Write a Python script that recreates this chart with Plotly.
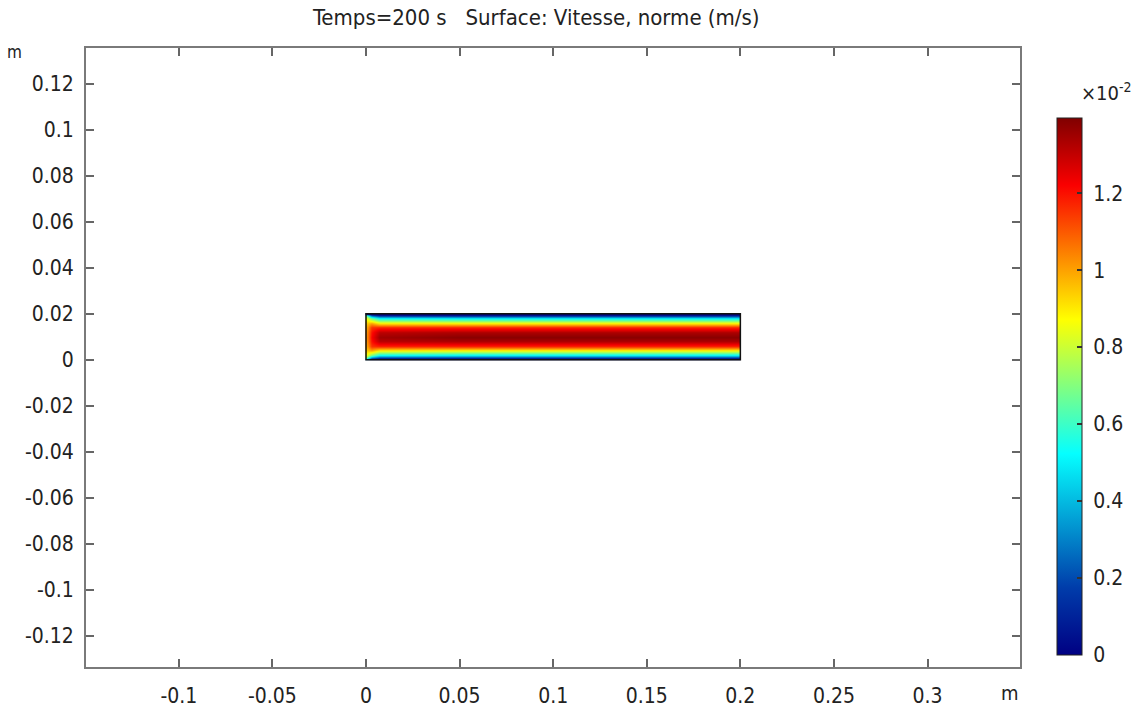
import plotly.graph_objects as go

# ---- data ----
x_pos = [0.0, 0.0006, 0.003, 0.007, 0.05, 0.1, 0.15, 0.1994, 0.2]          # m
y_pos = [0.0, 0.0005, 0.001, 0.002, 0.004, 0.006, 0.008, 0.01,
         0.012, 0.014, 0.016, 0.018, 0.019, 0.0195, 0.02]                   # m
# velocity magnitude (x1e-2 m/s), one row per y_pos, one column per x_pos
speed_e2 = [
    [0.00, 0.00, 0.00, 0.00, 0.00, 0.00, 0.00, 0.00, 0.00],
    [0.60, 0.50, 0.20, 0.08, 0.07, 0.07, 0.07, 0.07, 0.07],
    [0.72, 0.65, 0.38, 0.24, 0.22, 0.22, 0.22, 0.22, 0.22],
    [0.85, 0.82, 0.68, 0.52, 0.50, 0.50, 0.50, 0.50, 0.50],
    [0.95, 0.95, 1.00, 0.90, 0.89, 0.89, 0.89, 0.89, 0.89],
    [1.00, 1.01, 1.15, 1.17, 1.17, 1.17, 1.17, 1.17, 1.17],
    [1.02, 1.04, 1.20, 1.31, 1.33, 1.33, 1.33, 1.33, 1.33],
    [1.03, 1.05, 1.22, 1.35, 1.38, 1.38, 1.38, 1.38, 1.38],
    [1.02, 1.04, 1.20, 1.31, 1.33, 1.33, 1.33, 1.33, 1.33],
    [1.00, 1.01, 1.15, 1.17, 1.17, 1.17, 1.17, 1.17, 1.17],
    [0.95, 0.95, 1.00, 0.90, 0.89, 0.89, 0.89, 0.89, 0.89],
    [0.85, 0.82, 0.68, 0.52, 0.50, 0.50, 0.50, 0.50, 0.50],
    [0.72, 0.65, 0.38, 0.24, 0.22, 0.22, 0.22, 0.22, 0.22],
    [0.60, 0.50, 0.20, 0.08, 0.07, 0.07, 0.07, 0.07, 0.07],
    [0.00, 0.00, 0.00, 0.00, 0.00, 0.00, 0.00, 0.00, 0.00],
]
speed_max_e2 = 1.395
cbar_ticks_e2 = [0, 0.2, 0.4, 0.6, 0.8, 1, 1.2]
cbar_labels = ["0", "0.2", "0.4", "0.6", "0.8", "1", "1.2"]

x_ticks = [-0.1, -0.05, 0, 0.05, 0.1, 0.15, 0.2, 0.25, 0.3]
x_labels = ["-0.1", "-0.05", "0", "0.05", "0.1", "0.15", "0.2", "0.25", "0.3"]
y_ticks = [-0.12, -0.1, -0.08, -0.06, -0.04, -0.02, 0, 0.02, 0.04, 0.06, 0.08, 0.1, 0.12]
y_labels = ["-0.12", "-0.1", "-0.08", "-0.06", "-0.04", "-0.02", "0",
            "0.02", "0.04", "0.06", "0.08", "0.1", "0.12"]

title_text = "Temps=200 s\u00a0\u00a0\u00a0Surface: Vitesse, norme (m/s)"

FONT = "DejaVu Sans Condensed, DejaVu Sans, sans-serif"
jet = [[0.0, "rgb(0,0,131)"], [0.125, "rgb(0,60,170)"], [0.375, "rgb(5,255,255)"],
       [0.625, "rgb(255,255,0)"], [0.875, "rgb(250,0,0)"], [1.0, "rgb(128,0,0)"]]

z = [[v * 1e-2 for v in row] for row in speed_e2]

fig = go.Figure()
fig.add_trace(go.Heatmap(
    x=x_pos, y=y_pos, z=z, zsmooth="best", colorscale=jet,
    zmin=0, zmax=speed_max_e2 * 1e-2, hoverinfo="skip",
    colorbar=dict(
        x=1.0396, xanchor="left", xpad=0, ypad=0,
        y=0.453, yanchor="middle", len=0.8675, lenmode="fraction",
        thickness=25, outlinewidth=1, outlinecolor="#222",
        tickvals=[t * 1e-2 for t in cbar_ticks_e2],
        ticktext=["\u00a0" + s for s in cbar_labels],
        ticks="inside", ticklen=5, tickwidth=2, tickcolor="#333",
        tickfont=dict(family=FONT, size=21, color="#222"),
    ),
))

fig.add_shape(type="rect", x0=0, x1=0.2, y0=0, y1=0.02,
              line=dict(color="#111", width=1.5), layer="above")

axis_common = dict(showline=True, mirror="ticks", linecolor="#7a7a7a", linewidth=2,
                   ticks="inside", ticklen=8, tickwidth=2, tickcolor="#666",
                   showgrid=False, zeroline=False, automargin=False,
                   tickfont=dict(family=FONT, size=21, color="#222"))

fig.update_layout(
    width=1147, height=716,
    margin=dict(l=86, r=127, t=48, b=49, autoexpand=False),
    paper_bgcolor="white", plot_bgcolor="white",
    showlegend=False,
    xaxis=dict(range=[-0.1496, 0.3494], tickvals=x_ticks, ticktext=x_labels,
               ticklabelstandoff=9, **axis_common),
    yaxis=dict(range=[-0.1335, 0.1355], tickvals=y_ticks, ticktext=y_labels,
               ticklabelstandoff=6, **axis_common),
    annotations=[
        dict(text=title_text, xref="paper", yref="paper", x=0.482, y=1.0485,
             xanchor="center", yanchor="middle", showarrow=False,
             font=dict(family=FONT, size=22, color="#222")),
        dict(text="m", xref="paper", yref="paper", x=-0.077, y=0.9935,
             xanchor="center", yanchor="middle", showarrow=False,
             font=dict(family=FONT, size=17, color="#222")),
        dict(text="m", xref="paper", yref="paper", x=0.989, y=-0.042,
             xanchor="center", yanchor="middle", showarrow=False,
             font=dict(family=FONT, size=20, color="#222")),
        dict(text="\u00d710<sup>-2</sup>", xref="paper", yref="paper", x=1.093, y=0.929,
             xanchor="center", yanchor="middle", showarrow=False,
             font=dict(family=FONT, size=20, color="#222")),
    ],
)

fig.write_html("out.html")
